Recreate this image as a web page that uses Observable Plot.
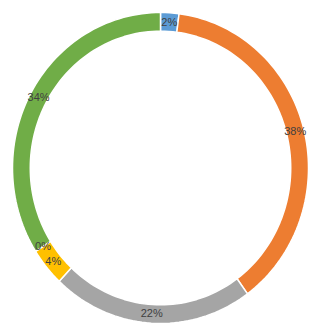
<!DOCTYPE html>
<html>
<head>
<meta charset="utf-8">
<script src="https://cdn.jsdelivr.net/npm/d3@7"></script>
<script src="https://cdn.jsdelivr.net/npm/@observablehq/plot@0.6"></script>
<style>
  html, body { margin: 0; padding: 0; background: #fff; }
  #chart { width: 313px; height: 325px; }
</style>
</head>
<body>
<div id="chart"></div>
<script>
const categories = ["A", "B", "C", "D", "E", "F"];
const values = [2, 38, 22, 4, 0, 34];
const labels = ["2%", "38%", "22%", "4%", "0%", "34%"];
const colors = ["#5B9BD5", "#ED7D31", "#A5A5A5", "#FFC000", "#4472C4", "#70AD47"];

const total = d3.sum(values);
const rOuter = 1, rInner = 0.88, rLabel = 0.94;

// Build ring-segment polygons from the data
const polys = [];
const labelRows = [];
let acc = 0;
categories.forEach((c, i) => {
  const a0 = acc / total, a1 = (acc + values[i]) / total;
  acc += values[i];
  const n = Math.max(2, Math.ceil((a1 - a0) * 200));
  const pts = [];
  for (let k = 0; k <= n; k++) {
    const t = 2 * Math.PI * (a0 + (a1 - a0) * k / n);
    pts.push({cat: c, x: rOuter * Math.sin(t), y: rOuter * Math.cos(t)});
  }
  for (let k = n; k >= 0; k--) {
    const t = 2 * Math.PI * (a0 + (a1 - a0) * k / n);
    pts.push({cat: c, x: rInner * Math.sin(t), y: rInner * Math.cos(t)});
  }
  pts.push(pts[0]);
  if (values[i] > 0) polys.push(...pts);
  const tm = 2 * Math.PI * (a0 + a1) / 2;
  labelRows.push({label: labels[i], x: rLabel * Math.sin(tm), y: rLabel * Math.cos(tm)});
});

const chart = Plot.plot({
  width: 313,
  height: 325,
  marginTop: 0, marginRight: 0, marginBottom: 0, marginLeft: 0,
  x: {domain: [-1, 1], range: [12, 308], axis: null},
  y: {domain: [-1, 1], range: [323, 12], axis: null},
  color: {type: "ordinal", domain: categories, range: colors},
  style: {background: "#fff"},
  marks: [
    Plot.line(polys, {x: "x", y: "y", z: "cat", fill: "cat", stroke: "#fff", strokeWidth: 1.5, curve: "linear"}),
    Plot.text(labelRows, {x: "x", y: "y", text: "label", fill: "#404040", fontSize: 11, fontFamily: "Liberation Sans, Arial, sans-serif"})
  ]
});
document.getElementById("chart").appendChild(chart);
</script>
</body>
</html>
